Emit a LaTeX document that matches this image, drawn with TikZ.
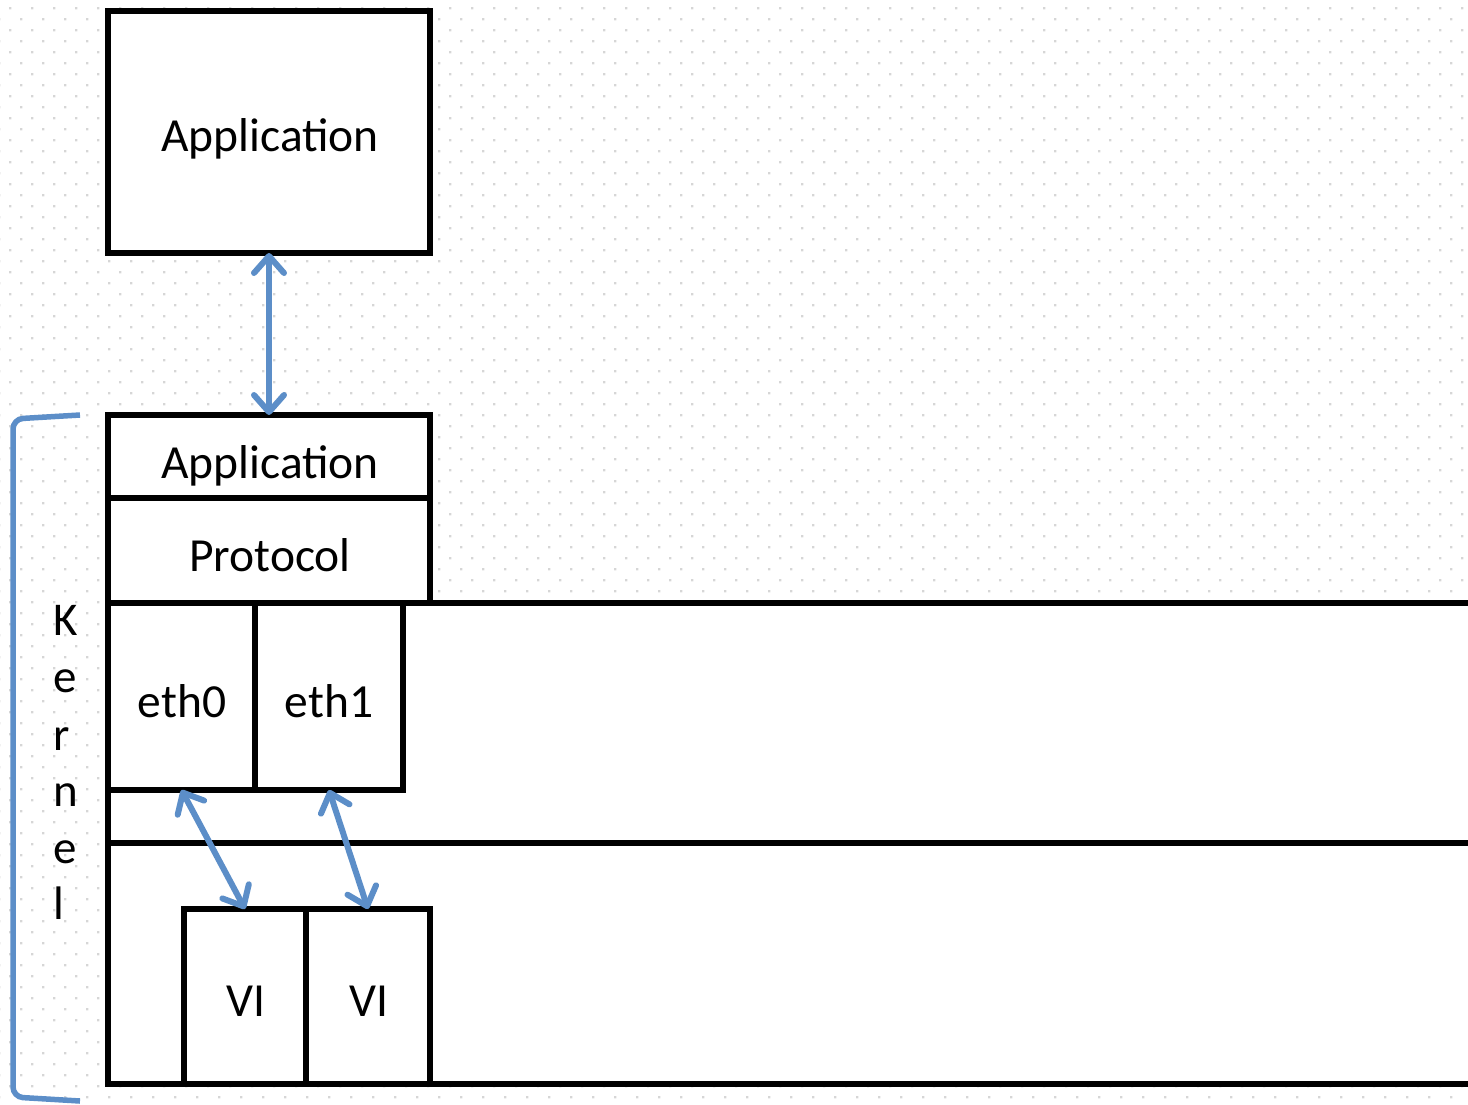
\documentclass[tikz,border=0pt]{standalone}
\usepackage{fontspec}
\setmainfont{Carlito}
\usetikzlibrary{arrows.meta}
\definecolor{dotc}{RGB}{214,214,214}
\definecolor{kblue}{RGB}{92,142,200}
\begin{document}
\begin{tikzpicture}[x=1pt,y=-1pt,
  box/.style={draw=black, line width=5.5pt, fill=white, inner sep=0pt, outer sep=0pt, anchor=north west},
  lbl/.style={font=\fontsize{47.5}{56}\selectfont, anchor=base, inner sep=0pt},
  klbl/.style={font=\fontsize{47}{56}\selectfont, anchor=base west, inner sep=0pt},
  link/.style={draw=kblue, line width=6pt, line cap=round,
    {Straight Barb[length=17pt,width=30pt,round]}-{Straight Barb[length=17pt,width=30pt,round]}},
  bracket/.style={draw=kblue, line width=5.5pt, rounded corners=10pt}]
\useasboundingbox (0,0) rectangle (1468,1104);
% dotted grid background
\fill[dotc] \foreach \i in {0,...,67} {\foreach \j in {0,...,50} {(22*\i-2,22*\j-4) rectangle ++(2.4,2.4) (22*\i+9,22*\j+7) rectangle ++(2.4,2.4)}};
% kernel area
\fill[white] (108,603) rectangle (1468,1084);
\draw[line width=5.5pt] (1468,603) -- (108,603) -- (108,1084) -- (1468,1084);
\draw[line width=5.5pt] (108,843) -- (1468,843);
% boxes
\node[box, minimum width=322pt, minimum height=242pt] (app) at (108,11) {};
\node[box, minimum width=322pt, minimum height=83pt] (kapp) at (108,415) {};
\node[box, minimum width=322pt, minimum height=105pt] (proto) at (108,498) {};
\node[box, minimum width=147pt, minimum height=187pt] (eth0) at (108,603) {};
\node[box, minimum width=148pt, minimum height=187pt] (eth1) at (255,603) {};
\node[box, minimum width=122pt, minimum height=175pt] (vi1) at (184,909) {};
\node[box, minimum width=124pt, minimum height=175pt] (vi2) at (306,909) {};
% labels
\node[lbl] (tapp) at (270,151) {Application};
\node[lbl] (tkapp) at (270,478) {Application};
\node[lbl] (tproto) at (270,571) {Protocol};
\node[lbl] (teth0) at (182,717) {eth0};
\node[lbl] (teth1) at (329,717) {eth1};
\node[lbl] (tvi1) at (246,1016) {VI};
\node[lbl] (tvi2) at (369,1016) {VI};
% kernel label
\node[klbl] (k1) at (53,635) {K};
\node[klbl] (k2) at (53,692) {e};
\node[klbl] (k3) at (53,750) {r};
\node[klbl] (k4) at (53,806) {n};
\node[klbl] (k5) at (53,863) {e};
\node[klbl] (k6) at (53,919) {l};
% bracket
\draw[bracket] (80,415) -- (13,419) -- (13,1097) -- (80,1101);
% arrows
\draw[link] (app.south) -- (kapp.north);
\draw[link] (eth0.south) -- (vi1.north);
\draw[link] (eth1.south) -- (vi2.north);
\end{tikzpicture}
\end{document}
